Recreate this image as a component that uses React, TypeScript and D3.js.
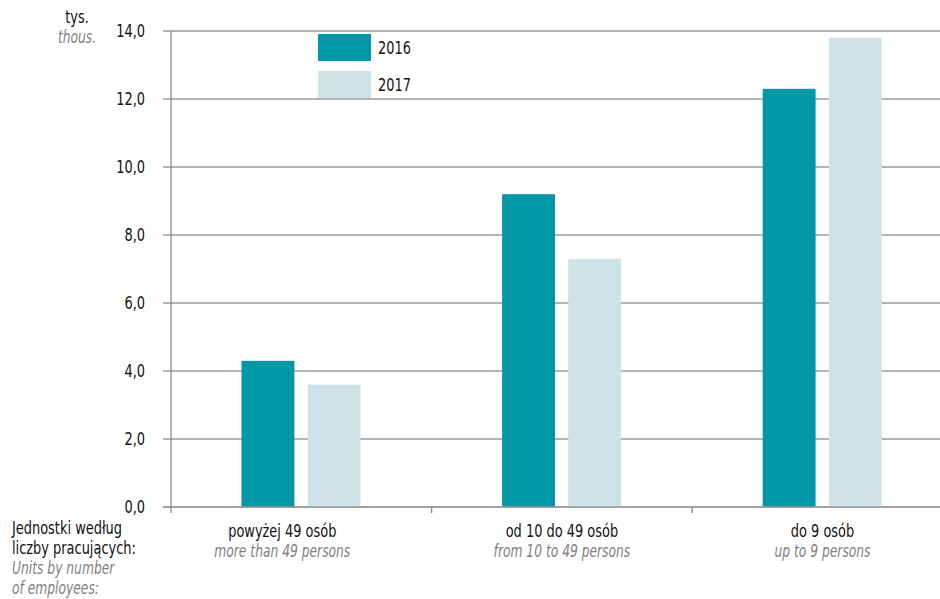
import React from "react";
import * as d3 from "d3";

const categories = ["powyżej 49 osób", "od 10 do 49 osób", "do 9 osób"];
const categoriesEn = ["more than 49 persons", "from 10 to 49 persons", "up to 9 persons"];
const seriesNames = ["2016", "2017"];
const values2016 = [4.3, 9.2, 12.3];
const values2017 = [3.6, 7.3, 13.8];
const yTicks = [0, 2, 4, 6, 8, 10, 12, 14];
const colors = ["#0097A7", "#CDE3E8"];

const W = 940;
const H = 599;
const FONT = "'DejaVu Sans Condensed', 'Liberation Sans Narrow', sans-serif";

type TProps = {
  x: number;
  y: number;
  anchor?: "start" | "middle" | "end";
  italic?: boolean;
  children: React.ReactNode;
};

function T({ x, y, anchor = "start", italic = false, children }: TProps) {
  const sx = italic ? 0.76 : 0.8;
  return (
    <text
      transform={`translate(${x},${y}) scale(${sx},1)`}
      textAnchor={anchor}
      fontSize={18}
      fontStyle={italic ? "italic" : "normal"}
      fill={italic ? "#7f7f7f" : "#111"}
    >
      {children}
    </text>
  );
}

export default function App() {
  const x0 = d3.scaleBand<string>().domain(categories).range([171, 171 + 3 * 260.6]).padding(0);
  const x1 = d3.scaleBand<string>().domain(seriesNames).range([70.5, 189.5]).paddingInner(0.2).paddingOuter(0);
  const y = d3.scaleLinear().domain([0, 14]).range([507, 31]);
  const seriesValues = [values2016, values2017];
  const fmt = (v: number) => v.toFixed(1).replace(".", ",");
  const boundaries = categories.map((c) => (x0(c) as number) + x0.bandwidth());

  return (
    <svg width={W} height={H} style={{ position: "absolute", left: 0, top: 0, background: "#fff" }} fontFamily={FONT}>
      {yTicks.map((t) => (
        <line key={"g" + t} x1={163} x2={940} y1={y(t)} y2={y(t)} stroke="#9a9a9a" strokeWidth={1.3} />
      ))}
      <line x1={171} x2={171} y1={y(14)} y2={y(0) + 6} stroke="#8a8a8a" strokeWidth={1.3} />
      {boundaries.map((b, i) => (
        <line key={"t" + i} x1={b} x2={b} y1={y(0)} y2={y(0) + 6} stroke="#8a8a8a" strokeWidth={1.3} />
      ))}
      {yTicks.map((t) => (
        <T key={"l" + t} x={145} y={y(t) + 6} anchor="end">
          {fmt(t)}
        </T>
      ))}
      <T x={77} y={23} anchor="middle">tys.</T>
      <T x={77} y={43} anchor="middle" italic>thous.</T>

      <rect x={304} y={32} width={120} height={66} fill="#fff" />
      {seriesNames.map((s, i) => (
        <g key={"lg" + s}>
          <rect x={318} y={34 + i * 37} width={53} height={27} fill={colors[i]} />
          <T x={378} y={54 + i * 37}>{s}</T>
        </g>
      ))}

      {categories.map((c, ci) =>
        seriesNames.map((s, si) => {
          const v = seriesValues[si][ci];
          const bx = (x0(c) as number) + (x1(s) as number);
          return (
            <rect key={c + s} x={bx} y={y(v)} width={x1.bandwidth()} height={y(0) - y(v)} fill={colors[si]} />
          );
        })
      )}
      <line x1={163} x2={940} y1={y(0)} y2={y(0)} stroke="#9a9a9a" strokeWidth={1.3} />

      {categories.map((c, i) => {
        const cx = (x0(c) as number) + x0.bandwidth() / 2 + (i === 0 ? -19 : 0);
        return (
          <g key={"cl" + c}>
            <T x={cx} y={537} anchor="middle">{c}</T>
            <T x={cx} y={557} anchor="middle" italic>{categoriesEn[i]}</T>
          </g>
        );
      })}

      <T x={12} y={534}>Jednostki według</T>
      <T x={12} y={554}>liczby pracujących:</T>
      <T x={12} y={574} italic>Units by number</T>
      <T x={12} y={594} italic>of employees:</T>
    </svg>
  );
}
